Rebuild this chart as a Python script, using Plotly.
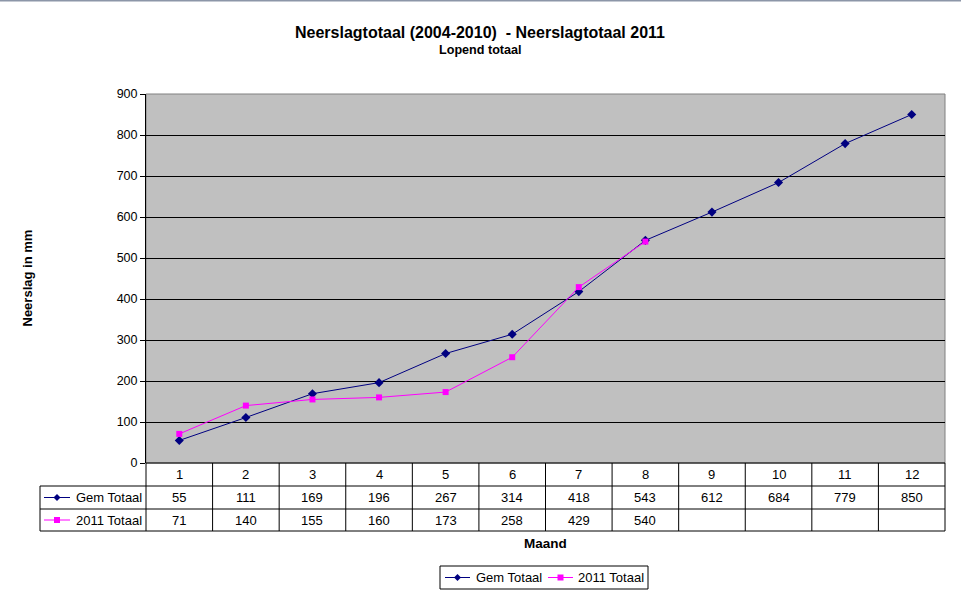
import plotly.graph_objects as go

months = [1, 2, 3, 4, 5, 6, 7, 8, 9, 10, 11, 12]
gem_totaal = [55, 111, 169, 196, 267, 314, 418, 543, 612, 684, 779, 850]
totaal_2011 = [71, 140, 155, 160, 173, 258, 429, 540]
series_names = ["Gem Totaal", "2011 Totaal"]
y_ticks = [0, 100, 200, 300, 400, 500, 600, 700, 800, 900]

W, H = 961, 599
NAVY = "#000080"
MAG = "#FF00FF"
FONT = "Liberation Sans, Arial, sans-serif"

# plot area in pixels
PL, PR, PT, PB = 146, 945, 94, 463
ROW = [463, 486, 509, 531]
TL = 40


def px(x):
    return x / W


def py(y):
    return 1 - y / H


fig = go.Figure()
fig.add_trace(go.Scatter(x=months, y=gem_totaal, name=series_names[0], mode="lines+markers",
                         line=dict(color=NAVY, width=1),
                         marker=dict(symbol="diamond", size=7, color=NAVY)))
fig.add_trace(go.Scatter(x=months[:len(totaal_2011)], y=totaal_2011, name=series_names[1],
                         mode="lines+markers", line=dict(color=MAG, width=1),
                         marker=dict(symbol="square", size=6, color=MAG)))

shapes = []
ann = []
# top border
shapes.append(dict(type="line", xref="paper", yref="paper", x0=0, x1=1, y0=py(0.5), y1=py(0.5),
                   line=dict(color="#8c96a8", width=2)))
# plot border (top / right)
shapes.append(dict(type="rect", xref="paper", yref="paper", x0=px(PL), x1=px(PR), y0=py(PB), y1=py(PT),
                   line=dict(color="#808080", width=1), layer="below"))

# data table
lw = dict(color="black", width=1)
n = len(months)
colw = (PR - PL) / n
shapes.append(dict(type="line", xref="paper", yref="paper", x0=px(PL), x1=px(PR), y0=py(ROW[0]), y1=py(ROW[0]), line=lw))
for r in ROW[1:]:
    shapes.append(dict(type="line", xref="paper", yref="paper", x0=px(TL), x1=px(PR), y0=py(r), y1=py(r), line=lw))
shapes.append(dict(type="line", xref="paper", yref="paper", x0=px(TL), x1=px(TL), y0=py(ROW[1]), y1=py(ROW[3]), line=lw))
for k in range(n + 1):
    xx = PL + k * colw
    shapes.append(dict(type="line", xref="paper", yref="paper", x0=px(xx), x1=px(xx), y0=py(ROW[0]), y1=py(ROW[3]), line=lw))

tf = dict(family=FONT, size=13, color="black")
rows_vals = [months, gem_totaal, totaal_2011]
for ri, vals in enumerate(rows_vals):
    yc = (ROW[ri] + ROW[ri + 1]) / 2
    for i, v in enumerate(vals):
        ann.append(dict(x=months[i], xref="x", y=py(yc), yref="paper", text=str(v), showarrow=False,
                        font=tf, xanchor="center", yanchor="middle"))


def key(cx0, cx1, yc, col, sym):
    shapes.append(dict(type="line", xref="paper", yref="paper", x0=px(cx0), x1=px(cx1), y0=py(yc), y1=py(yc),
                       line=dict(color=col, width=1)))
    cx = (cx0 + cx1) / 2
    if sym == "diamond":
        path = f"M {px(cx-3.5)},{py(yc)} L {px(cx)},{py(yc-3.5)} L {px(cx+3.5)},{py(yc)} L {px(cx)},{py(yc+3.5)} Z"
        shapes.append(dict(type="path", xref="paper", yref="paper", path=path, fillcolor=col, line=dict(color=col, width=0)))
    else:
        shapes.append(dict(type="rect", xref="paper", yref="paper", x0=px(cx - 3), x1=px(cx + 3), y0=py(yc - 3), y1=py(yc + 3),
                           fillcolor=col, line=dict(color=col, width=0)))


# legend keys in table
for ri, (name, col, sym) in enumerate(zip(series_names, [NAVY, MAG], ["diamond", "square"])):
    yc = (ROW[ri + 1] + ROW[ri + 2]) / 2
    key(44, 70, yc, col, sym)
    ann.append(dict(x=px(74), xref="paper", y=py(yc), yref="paper", text=name, showarrow=False, font=tf,
                    xanchor="left", yanchor="middle"))

# bottom legend
LB = (440, 648, 566, 589)
shapes.append(dict(type="rect", xref="paper", yref="paper", x0=px(LB[0]), x1=px(LB[1]), y0=py(LB[3]), y1=py(LB[2]),
                   line=dict(color="black", width=1), fillcolor="white"))
ly = (LB[2] + LB[3]) / 2
for (x0, x1, tx), name, col, sym in zip([(445, 470, 474), (548, 573, 576)], series_names, [NAVY, MAG],
                                        ["diamond", "square"]):
    key(x0, x1, ly, col, sym)
    ann.append(dict(x=px(tx), xref="paper", y=py(ly), yref="paper", text=name, showarrow=False, font=tf,
                    xanchor="left", yanchor="middle"))

# titles
ann.append(dict(x=px(480), xref="paper", y=py(32), yref="paper",
                text="<b>Neerslagtotaal (2004-2010)  - Neerslagtotaal 2011</b>", showarrow=False,
                font=dict(family=FONT, size=16, color="black"), xanchor="center", yanchor="middle"))
ann.append(dict(x=px(480), xref="paper", y=py(50), yref="paper", text="<b>Lopend totaal</b>", showarrow=False,
                font=dict(family=FONT, size=12.6, color="black"), xanchor="center", yanchor="middle"))
ann.append(dict(x=px((PL + PR) / 2), xref="paper", y=py(543), yref="paper", text="<b>Maand</b>", showarrow=False,
                font=dict(family=FONT, size=13.5, color="black"), xanchor="center", yanchor="middle"))
ann.append(dict(x=px(27), xref="paper", y=py((PT + PB) / 2), yref="paper", text="<b>Neerslag in mm</b>",
                showarrow=False, textangle=-90, font=dict(family=FONT, size=13, color="black"),
                xanchor="center", yanchor="middle"))

fig.update_layout(
    width=W, height=H,
    margin=dict(l=0, r=0, t=0, b=0, autoexpand=False),
    paper_bgcolor="white",
    plot_bgcolor="#C0C0C0",
    font=dict(family=FONT, size=12, color="black"),
    shapes=shapes,
    annotations=ann,
    showlegend=False,
    xaxis=dict(domain=[px(PL), px(PR)], range=[0.5, 12.5], showticklabels=False, showgrid=False,
               zeroline=False, ticks="", showline=False, fixedrange=True),
    yaxis=dict(domain=[py(PB), py(PT)], range=[0, 900], tickvals=y_ticks, showgrid=True,
               gridcolor="black", gridwidth=1, zeroline=False, ticks="outside", ticklen=5,
               tickcolor="black", showline=True, linecolor="black", linewidth=1,
               tickfont=dict(family=FONT, size=12.5, color="black"), fixedrange=True),
)

fig.write_html("out.html", config={"responsive": False, "displayModeBar": False},
               post_script="document.body.style.margin='0';document.body.style.overflow='hidden';")
